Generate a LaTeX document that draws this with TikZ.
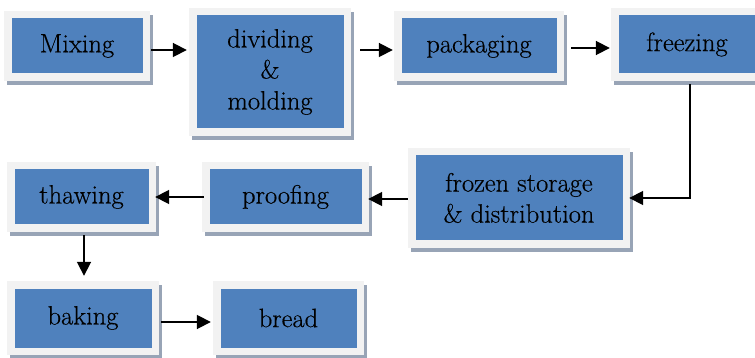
\documentclass[tikz,border=0pt]{standalone}
\usepackage{fontspec}
\newfontfamily\boxfont{Latin Modern Roman}[FakeBold=0.4]
\usetikzlibrary{arrows.meta}
\definecolor{boxblue}{HTML}{4F81BD}
\definecolor{frame}{HTML}{F2F2F2}
\definecolor{shade}{HTML}{98A4B6}
\tikzset{
  flowbox/.style 2 args={rectangle, inner sep=0pt, minimum width=#1, minimum height=#2,
    fill=frame, align=center,
    font=\boxfont\addfontfeature{FakeBold=0.4}\fontsize{26.5}{31}\selectfont,
    preaction={fill=shade, transform canvas={shift={(3pt,-4pt)}}},
    path picture={\fill[boxblue] ([shift={(7.5pt,-7.5pt)}]path picture bounding box.north west)
      rectangle ([shift={(-7.5pt,7.5pt)}]path picture bounding box.south east);}},
  arr/.style={line width=1.8pt, -{Triangle[length=14pt,width=14pt]}}
}
\begin{document}
\begin{tikzpicture}[x=1pt,y=-1pt]
\clip (0,0) rectangle (755,358);
\fill[white] (0,0) rectangle (755,358);
\node[flowbox={146pt}{70pt}] (mix) at (77,46) {Mixing};
\node[flowbox={162pt}{128pt}] (div) at (270,72) {dividing\\\&\\molding};
\node[flowbox={170pt}{70pt}] (pack) at (479,46) {packaging};
\node[flowbox={152pt}{73pt}] (freeze) at (687,44.5) {freezing};
\node[flowbox={222pt}{100pt}] (frozen) at (519,198) {frozen storage\\\& distribution};
\node[flowbox={167pt}{70pt}] (proof) at (285.5,197) {proofing};
\node[flowbox={149pt}{70pt}] (thaw) at (81.5,197) {thawing};
\node[flowbox={152pt}{74pt}] (bake) at (83,318) {baking};
\node[flowbox={151pt}{74pt}] (bread) at (288.5,318) {bread};

\draw[arr, shorten <=1pt, shorten >=2pt] ([yshift=-4pt]mix.east) -- ([yshift=-4pt]mix.east -| div.west);
\draw[arr, shorten <=9pt, shorten >=1pt] ([yshift=-4pt]pack.west -| div.east) -- ([yshift=-4pt]pack.west);
\draw[arr, shorten <=7pt, shorten >=1pt] ([yshift=-2pt]pack.east) -- ([yshift=-2pt]pack.east -| freeze.west);
\draw[arr, shorten <=3pt, shorten >=-1pt] ([xshift=3pt]freeze.south) |- (frozen.east);
\draw[arr, shorten >=-1pt] ([yshift=-1pt]frozen.west) -- ([yshift=-1pt]frozen.west -| proof.east);
\draw[arr, shorten <=-2pt, shorten >=-1pt] (proof.west) -- (thaw.east);
\draw[arr, shorten <=3pt, shorten >=5pt] ([xshift=2.5pt]thaw.south) -- ([xshift=2.5pt]thaw.south |- bake.north);
\draw[arr, shorten <=2pt, shorten >=2pt] ([yshift=-4pt]bake.east) -- ([yshift=-4pt]bake.east -| bread.west);
\end{tikzpicture}
\end{document}
